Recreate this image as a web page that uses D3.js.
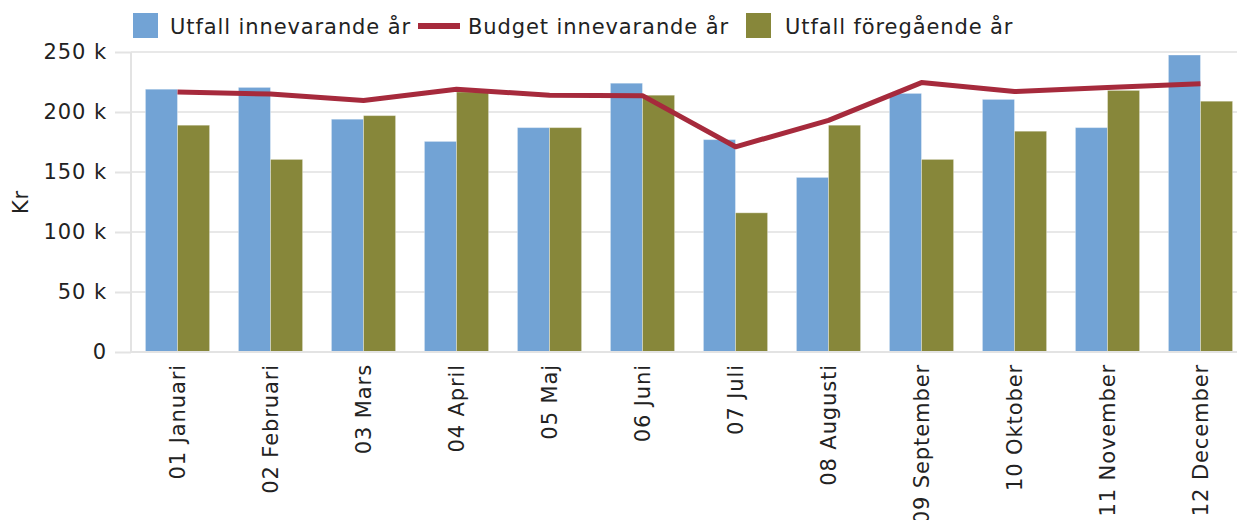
<!DOCTYPE html>
<html lang="sv">
<head>
    <meta charset="UTF-8">
    <title>Utfall och budget per månad</title>
    <script src="https://d3js.org/d3.v7.min.js"></script>
    <style>
        body { margin: 0; background: #fff; }
        svg text { font-family: "DejaVu Sans", Verdana, sans-serif; fill: #222; letter-spacing: 0.9px; }
        .tick-label { font-size: 21px; }
        .legend { font-size: 21px; }
    </style>
</head>
<body>
    <svg width="1237" height="520"></svg>
    <script>
        const months = ["01 Januari", "02 Februari", "03 Mars", "04 April", "05 Maj", "06 Juni",
            "07 Juli", "08 Augusti", "09 September", "10 Oktober", "11 November", "12 December"];
        const utfallInnevarande = [219000, 220500, 194000, 175500, 187000, 224000, 177000, 145500, 215500, 210500, 187000, 247500];
        const utfallForegaende = [189000, 160500, 197000, 216700, 187000, 214000, 116000, 189000, 160500, 184000, 218000, 209000];
        const budgetInnevarande = [216700, 215000, 209500, 219000, 214000, 213600, 171000, 193000, 224500, 217000, 220500, 223600];
        const yTicks = [0, 50000, 100000, 150000, 200000, 250000];
        const seriesNames = ["Utfall innevarande år", "Budget innevarande år", "Utfall föregående år"];

        const colors = {cur: "#72a3d5", budget: "#a62a3c", prev: "#87873a"};

        const svg = d3.select("svg");
        const plotLeft = 131, plotTop = 52, plotBottom = 352;
        const step = 93;

        const x = d3.scaleBand()
            .domain(months)
            .range([plotLeft, plotLeft + step * months.length])
            .paddingInner(0.31)
            .paddingOuter(0.155);

        const xSub = d3.scaleBand()
            .domain(["cur", "prev"])
            .range([0, x.bandwidth()]);

        const y = d3.scaleLinear()
            .domain([0, 250000])
            .range([plotBottom, plotTop]);

        // grid + y axis
        const yAxis = svg.append("g")
            .attr("transform", `translate(${plotLeft},0)`)
            .call(d3.axisLeft(y).tickValues(yTicks)
                .tickSize(16).tickPadding(8)
                .tickFormat(d => d === 0 ? "0" : `${d / 1000} k`));
        yAxis.select(".domain").remove();
        yAxis.selectAll(".tick line").attr("stroke", "#e3e3e3").attr("stroke-width", 2);
        yAxis.selectAll(".tick text").attr("class", "tick-label").attr("fill", "#222");
        yAxis.attr("font-size", null).attr("font-family", null);

        svg.append("g")
            .selectAll("line")
            .data(yTicks.filter(d => d > 0))
            .join("line")
            .attr("x1", plotLeft).attr("x2", 1237)
            .attr("y1", d => y(d)).attr("y2", d => y(d))
            .attr("stroke", "#e8e8e8").attr("stroke-width", 2);

        svg.append("line")
            .attr("x1", plotLeft).attr("x2", plotLeft)
            .attr("y1", plotTop).attr("y2", plotBottom)
            .attr("stroke", "#e3e3e3").attr("stroke-width", 2);

        svg.append("text")
            .attr("class", "tick-label")
            .attr("transform", `translate(28,${(plotTop + plotBottom) / 2}) rotate(-90)`)
            .attr("text-anchor", "middle")
            .text("Kr");

        // bars
        const groups = svg.append("g")
            .selectAll("g")
            .data(months.map((m, i) => ({m, cur: utfallInnevarande[i], prev: utfallForegaende[i]})))
            .join("g")
            .attr("transform", d => `translate(${x(d.m)},0)`);

        groups.selectAll("rect")
            .data(d => ["cur", "prev"].map(k => ({k, v: d[k]})))
            .join("rect")
            .attr("x", d => xSub(d.k))
            .attr("y", d => y(d.v))
            .attr("width", xSub.bandwidth())
            .attr("height", d => y(0) - y(d.v))
            .attr("fill", d => colors[d.k])
            .attr("stroke", "rgba(255,255,255,0.35)")
            .attr("stroke-width", 1);

        // x axis
        const xAxis = svg.append("g")
            .attr("transform", `translate(0,${plotBottom})`)
            .call(d3.axisBottom(x).tickSize(0).tickPadding(0));
        xAxis.attr("font-size", null).attr("font-family", null);
        xAxis.select(".domain").attr("d", `M${plotLeft},0H1237`).attr("stroke", "#e3e3e3").attr("stroke-width", 2);
        xAxis.selectAll(".tick text")
            .attr("class", "tick-label").attr("fill", "#222")
            .attr("transform", "rotate(-90)")
            .attr("text-anchor", "end")
            .attr("dy", "0.35em")
            .attr("x", -12)
            .attr("y", 0);

        // budget line
        svg.append("path")
            .datum(budgetInnevarande)
            .attr("fill", "none")
            .attr("stroke", colors.budget)
            .attr("stroke-width", 5)
            .attr("stroke-linejoin", "round")
            .attr("d", d3.line()
                .x((d, i) => x(months[i]) + x.bandwidth() / 2)
                .y(d => y(d)));

        // legend
        const legend = svg.append("g").attr("class", "legend");
        legend.append("rect").attr("x", 133).attr("y", 13).attr("width", 25).attr("height", 25).attr("fill", colors.cur);
        legend.append("text").attr("x", 170).attr("y", 34).text(seriesNames[0]);
        legend.append("line").attr("x1", 418).attr("x2", 460).attr("y1", 26).attr("y2", 26)
            .attr("stroke", colors.budget).attr("stroke-width", 6);
        legend.append("text").attr("x", 468).attr("y", 34).text(seriesNames[1]);
        legend.append("rect").attr("x", 746).attr("y", 13).attr("width", 25).attr("height", 25).attr("fill", colors.prev);
        legend.append("text").attr("x", 785).attr("y", 34).text(seriesNames[2]);
    </script>
</body>
</html>
